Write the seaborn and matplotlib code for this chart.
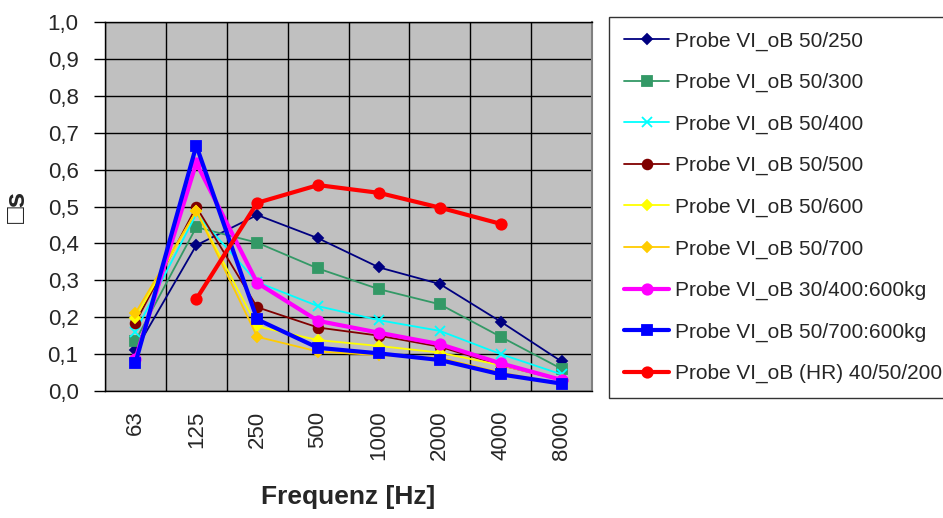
import numpy as np
import pandas as pd
import matplotlib
matplotlib.use("Agg")
import matplotlib.pyplot as plt
import seaborn as sns

# frequency bands (categories on the x axis)
freqs = ["63", "125", "250", "500", "1000", "2000", "4000", "8000"]

# absorption values
vi_50_250 = [0.11, 0.395, 0.477, 0.414, 0.335, 0.29, 0.188, 0.08]
vi_50_300 = [0.136, 0.444, 0.402, 0.332, 0.276, 0.235, 0.147, 0.06]
vi_50_400 = [0.161, 0.48, 0.295, 0.23, 0.192, 0.163, 0.10, 0.045]
vi_50_500 = [0.185, 0.499, 0.227, 0.172, 0.15, 0.12, 0.07, 0.03]
vi_50_600 = [0.198, 0.488, 0.175, 0.138, 0.122, 0.104, 0.07, 0.03]
vi_50_700 = [0.211, 0.488, 0.147, 0.107, 0.097, 0.09, 0.05, 0.02]
vi_30_400_600kg = [0.087, 0.618, 0.293, 0.19, 0.158, 0.127, 0.075, 0.03]
vi_50_700_600kg = [0.076, 0.665, 0.194, 0.117, 0.102, 0.084, 0.045, 0.02]
vi_hr_40_50_200 = [np.nan, 0.249, 0.51, 0.558, 0.537, 0.497, 0.453, np.nan]

labels = ["Probe VI_oB 50/250", "Probe VI_oB 50/300", "Probe VI_oB 50/400",
          "Probe VI_oB 50/500", "Probe VI_oB 50/600", "Probe VI_oB 50/700",
          "Probe VI_oB 30/400:600kg", "Probe VI_oB 50/700:600kg",
          "Probe VI_oB (HR) 40/50/200"]
series = [vi_50_250, vi_50_300, vi_50_400, vi_50_500, vi_50_600, vi_50_700,
          vi_30_400_600kg, vi_50_700_600kg, vi_hr_40_50_200]

# excel-like styling per series
colors = ["#000080", "#339966", "#00FFFF", "#800000", "#FFFF00", "#FFCC00",
          "#FF00FF", "#0000FF", "#FF0000"]
markers = ["D", "s", "x", "o", "D", "D", "o", "s", "o"]
msizes = [5.5, 6.5, 7.5, 7, 5.5, 5.5, 7.5, 7, 7.5]
lwidths = [1.3, 1.3, 1.3, 1.3, 1.3, 1.3, 3, 3, 3]

sns.set_style("white")
plt.rcParams['font.family'] = ['Liberation Sans', 'DejaVu Sans']

fig = plt.figure(figsize=(9.43, 5.18), dpi=100)
ax = fig.add_axes([105/943, 1-391/518, 487/943, 369/518])
ax.set_facecolor("#C0C0C0")

x = np.arange(len(freqs))
for vals, lab, c, m, ms, lw in zip(series, labels, colors, markers, msizes, lwidths):
    df = pd.DataFrame({"x": x, "y": vals}).dropna()
    sns.lineplot(data=df, x="x", y="y", ax=ax, color=c, marker=m, markersize=ms,
                 linewidth=lw, markeredgecolor=c, markeredgewidth=1.3,
                 label=lab, legend=False)

# axes, ticks and grid
ax.set_xlim(-0.5, len(freqs) - 0.5)
ax.set_ylim(0, 1.0)
ax.set_xticks(x)
ax.set_xticklabels(freqs, rotation=90, fontsize=16)
ax.set_xticks(np.arange(-0.5, len(freqs)), minor=True)
ax.tick_params(axis="x", which="major", length=0, pad=14)
ax.tick_params(axis="x", which="minor", length=8, width=1, direction="out", color="black")
yt = np.round(np.arange(0, 1.01, 0.1), 1)
ax.set_yticks(yt)
ax.set_yticklabels([f"{v:.1f}".replace(".", ",") for v in yt], fontsize=16)
ax.tick_params(axis="y", length=8, width=1, direction="out", color="black", pad=11, left=True)
ax.grid(axis="y", which="major", color="black", linewidth=1)
ax.grid(axis="x", which="minor", color="black", linewidth=1)
ax.set_axisbelow(True)
for s in ["left", "bottom", "top"]:
    ax.spines[s].set_color("black")
    ax.spines[s].set_linewidth(1)
ax.spines["right"].set_color("#808080")
ax.spines["right"].set_linewidth(1.5)

ax.set_xlabel("Frequenz [Hz]", fontsize=19, fontweight="bold")
ax.set_ylabel("\u25a1s", fontsize=20, fontweight="bold")
ax.xaxis.set_label_coords(0.5, (391-485)/369)
ax.yaxis.set_label_coords((31-105)/487, 0.5)

# legend box on the right
h, l = ax.get_legend_handles_labels()
leg = fig.legend(h, l, loc="upper left", bbox_to_anchor=(609/943, 1-17/518),
                 borderaxespad=0, fontsize=15, frameon=True, fancybox=False,
                 edgecolor="black", borderpad=0.7, labelspacing=1.07,
                 handlelength=2.2, handletextpad=0.25)
leg.get_frame().set_linewidth(1)

fig.savefig("out.png", dpi=100)
